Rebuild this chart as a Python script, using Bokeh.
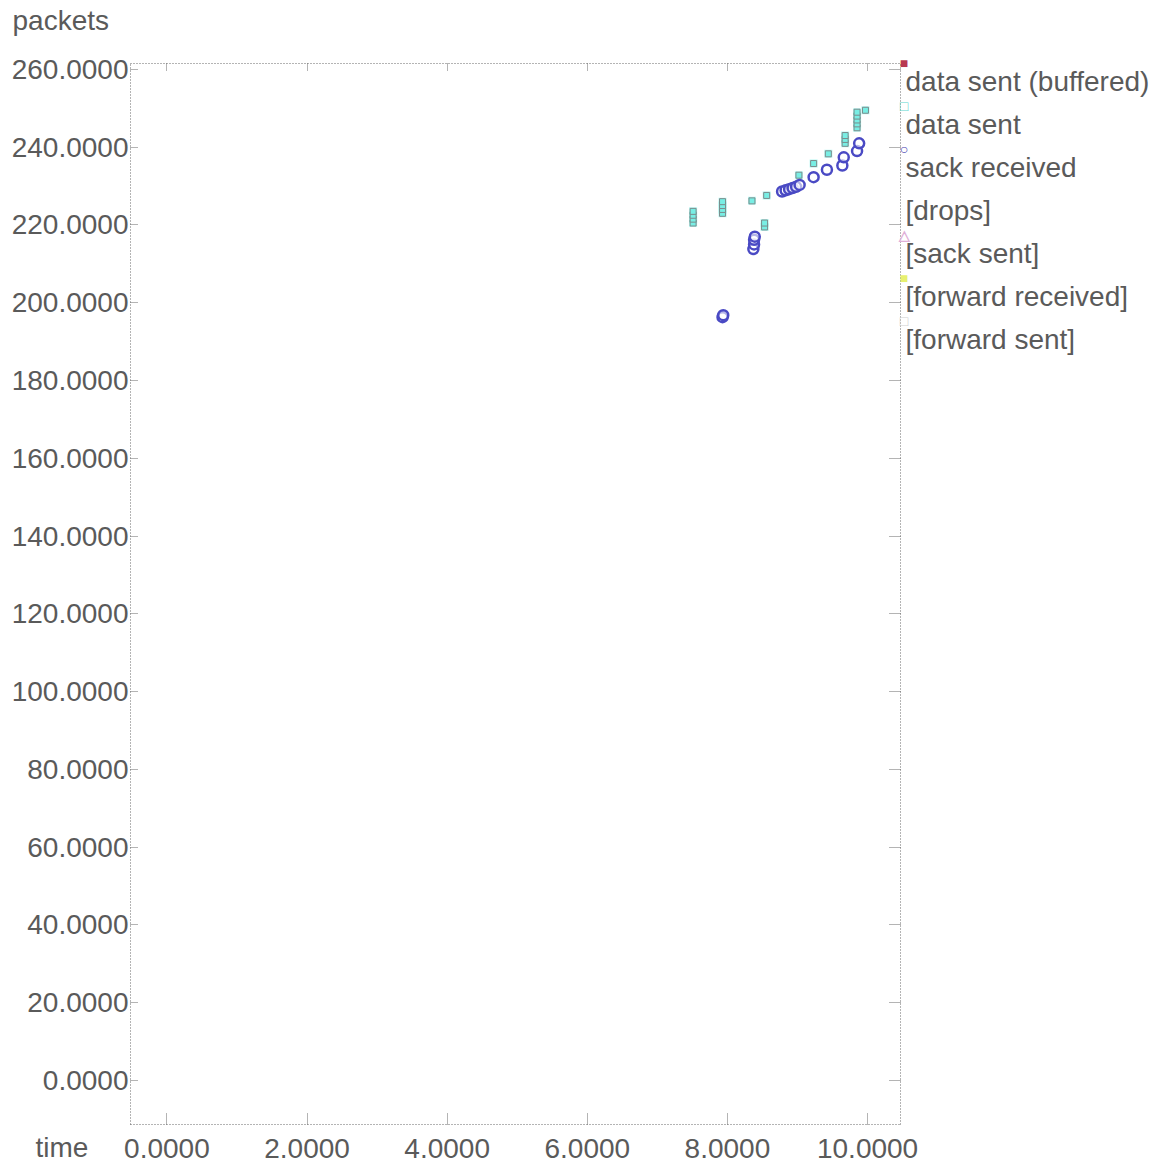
from bokeh.plotting import figure
from bokeh.models import Range1d, FixedTicker, LinearAxis, Label, PrintfTickFormatter
from bokeh.embed import file_html
from bokeh.resources import INLINE

# ---------------- data ----------------
x_ticks = [0, 2, 4, 6, 8, 10]
y_ticks = [0, 20, 40, 60, 80, 100, 120, 140, 160, 180, 200, 220, 240, 260]

data_sent_x = [7.51, 7.51, 7.51, 7.51, 7.93, 7.93, 7.93, 7.93, 8.35, 8.56, 8.53, 8.53,
               9.02, 9.23, 9.44, 9.68, 9.68, 9.68, 9.85, 9.85, 9.85, 9.85, 9.85, 9.97]
data_sent_y = [220.5, 221.5, 222.5, 223.5, 223, 224, 225, 226, 226.2, 227.6, 219.5, 220.5,
               232.8, 235.8, 238.3, 241, 242, 243, 245, 246, 247, 248, 249, 249.5]

sack_x = [7.93, 7.94, 8.37, 8.38, 8.38, 8.39, 8.78, 8.83, 8.88, 8.93, 8.98, 9.03,
          9.23, 9.42, 9.64, 9.66, 9.85, 9.88]
sack_y = [196.3, 196.8, 213.8, 215, 216.2, 217, 228.6, 228.9, 229.2, 229.5, 229.8, 230.3,
          232.3, 234.2, 235.3, 237.4, 239.0, 241.0]

legend_labels = ["data sent (buffered)", "data sent", "sack received", "[drops]",
                 "[sack sent]", "[forward received]", "[forward sent]"]
legend_marks = ["\u25a0", "\u25a1", "\u25cb", "", "\u25b3", "\u25a0", "\u25a1"]
legend_colors = ["#b83850", "#60d8d0", "#4040b0", "#dddddd", "#e0b0d8", "#e8f070", "#d0d0d0"]

x_label = "time"
y_label = "packets"

# ---------------- geometry ----------------
W, H = 1160, 1164
# data extent of the dotted plot box and where that box sits on the canvas
X0, X1 = -0.52, 10.47
Y0, Y1 = -11.3, 261.6
BL, BR, BT, BB = 130, 900, 62.7, 1124

dx = (X1 - X0) / (BR - BL)
dy = (Y1 - Y0) / (BB - BT)
XS, XE = X0 - BL * dx, X1 + (W - BR) * dx
YE, YS = Y1 + BT * dy, Y0 - (H - BB) * dy

def px_to_x(px):
    return XS + px * dx

def py_to_y(py):
    return YE - py * dy

FONT = "Liberation Sans"
TXT = "#5a5a5a"
AX = "#686868"
BASE_FIX = -9   # alphabetic-baseline labels render a little low

p = figure(width=W, height=H, output_backend="svg", toolbar_location=None,
           x_range=Range1d(XS, XE), y_range=Range1d(YS, YE),
           min_border=0, x_axis_type=None, y_axis_type=None)
p.grid.visible = False
p.outline_line_color = None
p.background_fill_color = "white"
p.border_fill_color = "white"

def make_axis(ticks, loc, bounds, show_labels, t_in):
    ax = LinearAxis(ticker=FixedTicker(ticks=ticks), fixed_location=loc, bounds=bounds)
    ax.axis_line_color = AX
    ax.axis_line_dash = "1 2"
    ax.axis_line_width = 1
    ax.major_tick_line_color = AX
    ax.major_tick_line_dash = "1 1"
    ax.major_tick_in = t_in
    ax.major_tick_out = 0
    ax.minor_tick_line_color = None
    ax.formatter = PrintfTickFormatter(format="%.4f")
    if show_labels:
        ax.major_label_text_font = FONT
        ax.major_label_text_font_size = "28px"
        ax.major_label_text_color = TXT
    else:
        ax.major_label_text_font_size = "0px"
        ax.major_label_text_color = None
    return ax

bottom = make_axis(x_ticks, Y0, (X0, X1), True, 11)
bottom.major_label_standoff = 14
p.add_layout(bottom, "below")

left = make_axis(y_ticks, X0, (Y0, Y1), True, 8)
left.major_label_standoff = 2
p.add_layout(left, "left")

top = make_axis(x_ticks, Y1, (X0, X1), False, 8)
p.add_layout(top, "above")

right = make_axis(y_ticks, X1, (Y0, Y1), False, 12)
p.add_layout(right, "right")

# ---------------- data glyphs ----------------
p.scatter(data_sent_x, data_sent_y, marker="square", size=8,
          fill_color="#8af2ea", fill_alpha=0.6, line_color=None)
p.scatter(data_sent_x, data_sent_y, marker="square", size=6,
          fill_color="#78eee4", line_color="#7a8c8c", line_width=1)
p.scatter(sack_x, sack_y, marker="circle", size=10,
          fill_color="white", fill_alpha=0.6, line_color="#4a4ac4", line_width=2.5)

# ---------------- axis titles ----------------
p.add_layout(Label(x=px_to_x(12), y=py_to_y(29 + BASE_FIX), text=y_label, text_font=FONT,
                   text_font_size="28px", text_color=TXT, text_baseline="alphabetic",
                   text_align="left"))
p.add_layout(Label(x=px_to_x(35), y=py_to_y(1156 + BASE_FIX), text=x_label, text_font=FONT,
                   text_font_size="28px", text_color=TXT, text_baseline="alphabetic",
                   text_align="left"))

# ---------------- legend ----------------
for i, (lab, mk, col) in enumerate(zip(legend_labels, legend_marks, legend_colors)):
    base = 89.5 + 43 * i
    p.add_layout(Label(x=px_to_x(905), y=py_to_y(base + BASE_FIX), text=lab, text_font=FONT,
                       text_font_size="28px", text_color=TXT, text_baseline="alphabetic",
                       text_align="left"))
    if mk:
        p.add_layout(Label(x=px_to_x(903.5), y=py_to_y(base - 27), text=mk, text_font=FONT,
                           text_font_size="14px", text_color=col, text_baseline="middle",
                           text_align="center", text_font_style="bold"))

open("out.html", "w").write(file_html(p, INLINE))
